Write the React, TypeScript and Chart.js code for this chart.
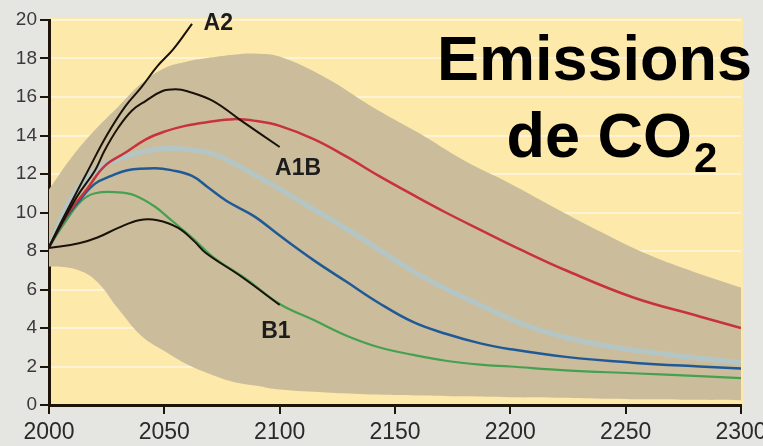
import React, { useEffect, useRef } from "react";
import { Chart, registerables } from "chart.js";

Chart.register(...registerables);

// ---- axis ranges / ticks ----
const yearMin = 2000;
const yearMax = 2300;
const yearStep = 50;
const emissionMin = 0;
const emissionMax = 20;
const emissionStep = 2;

// ---- uncertainty envelope (grey band) ----
const envelopeYears = [2000, 2010, 2020, 2030, 2040, 2050, 2060, 2070, 2080, 2090, 2100, 2120, 2140, 2160, 2180, 2200, 2220, 2240, 2260, 2280, 2300];
const envelopeUpper = [11.2, 12.9, 14.3, 15.5, 16.7, 17.5, 17.85, 18.05, 18.2, 18.25, 18.1, 17.0, 15.5, 14.15, 12.7, 11.5, 10.2, 8.95, 7.8, 6.9, 6.1];
const envelopeLower = [7.2, 7.1, 6.5, 5.0, 3.6, 2.8, 2.1, 1.6, 1.2, 1.0, 0.8, 0.65, 0.55, 0.5, 0.45, 0.4, 0.38, 0.33, 0.3, 0.27, 0.25];

// ---- scenario curves ----
const a2Years = [2000, 2004, 2010, 2017, 2025, 2033, 2040, 2047, 2054, 2062];
const a2Values = [8.2, 9.2, 10.6, 12.2, 14.0, 15.5, 16.5, 17.6, 18.5, 19.8];

const a1bYears = [2000, 2005, 2012, 2020, 2024, 2030, 2036, 2042, 2049, 2055, 2060, 2071, 2083, 2100];
const a1bValues = [8.2, 9.3, 10.8, 12.2, 13.2, 14.4, 15.3, 15.8, 16.3, 16.4, 16.3, 15.8, 14.8, 13.4];

const redYears = [2000, 2008, 2017, 2024, 2033, 2042, 2050, 2059, 2069, 2080, 2090, 2100, 2115, 2129, 2143, 2158, 2172, 2187, 2204, 2224, 2253, 2282, 2300];
const redValues = [8.2, 9.9, 11.3, 12.4, 13.1, 13.8, 14.2, 14.5, 14.7, 14.85, 14.75, 14.5, 13.8, 12.9, 11.9, 10.9, 10.0, 9.1, 8.1, 7.0, 5.6, 4.6, 4.0];

const lightBlueYears = [2000, 2010, 2020, 2033, 2045, 2058, 2072, 2090, 2110, 2135, 2160, 2185, 2210, 2240, 2270, 2300];
const lightBlueValues = [8.2, 10.8, 12.2, 12.9, 13.25, 13.3, 13.0, 11.9, 10.5, 8.7, 6.8, 5.3, 4.0, 3.1, 2.6, 2.2];

const blueYears = [2000, 2006, 2013, 2020, 2027, 2034, 2046, 2053, 2062, 2069, 2077, 2089, 2100, 2115, 2129, 2143, 2158, 2172, 2187, 2200, 2224, 2253, 2282, 2300];
const blueValues = [8.2, 9.5, 10.6, 11.5, 11.9, 12.2, 12.3, 12.2, 11.9, 11.3, 10.6, 9.8, 8.8, 7.5, 6.4, 5.3, 4.3, 3.7, 3.2, 2.9, 2.5, 2.2, 2.0, 1.9];

const greenYears = [2000, 2007, 2014, 2020, 2030, 2037, 2046, 2053, 2062, 2071, 2086, 2100, 2115, 2129, 2143, 2158, 2172, 2187, 2200, 2224, 2253, 2282, 2300];
const greenValues = [8.2, 9.5, 10.6, 11.0, 11.05, 10.9, 10.3, 9.6, 8.7, 7.7, 6.5, 5.25, 4.4, 3.6, 3.0, 2.6, 2.3, 2.1, 2.0, 1.8, 1.65, 1.5, 1.4];

const b1Years = [2000, 2013, 2021, 2030, 2039, 2047, 2056, 2063, 2068, 2083, 2100];
const b1Values = [8.15, 8.4, 8.7, 9.2, 9.6, 9.6, 9.2, 8.5, 7.9, 6.7, 5.2];

// ---- scenario labels (anchored in data coordinates) ----
const labelTexts = ["A2", "A1B", "B1"];
const labelYears = [2067, 2098, 2092];
const labelValues = [19.5, 11.95, 3.5];

// ---- title ----
const titleLine1 = "Emissions";
const titleLine2 = "de CO";
const titleSubscript = "2";

const pts = (xs: number[], ys: number[]) => xs.map((x, i) => ({ x, y: ys[i] }));

const SANS = "'Liberation Sans', Arial, Helvetica, sans-serif";
const AXIS_DARK = "#1e1408";

const backgroundPlugin = {
  id: "bg",
  beforeDraw(chart: any) {
    const { ctx, chartArea, width, height } = chart;
    ctx.save();
    ctx.fillStyle = "#e5e5e1";
    ctx.fillRect(0, 0, width, height);
    ctx.fillStyle = "#fde9aa";
    ctx.fillRect(chartArea.left, chartArea.top - 2, chartArea.right - chartArea.left + 2, chartArea.bottom - chartArea.top + 2);
    ctx.restore();
  },
};

const textPlugin = {
  id: "texts",
  afterDraw(chart: any) {
    const { ctx, scales } = chart;
    const xs = scales.x;
    const ys = scales.y;
    ctx.save();
    ctx.fillStyle = "#1c1c1c";
    ctx.font = `bold 23px ${SANS}`;
    ctx.textAlign = "left";
    ctx.textBaseline = "alphabetic";
    labelTexts.forEach((t, i) => {
      ctx.fillText(t, xs.getPixelForValue(labelYears[i]), ys.getPixelForValue(labelValues[i]));
    });
    ctx.fillStyle = "#000000";
    ctx.font = `bold 63px ${SANS}`;
    ctx.textAlign = "right";
    ctx.fillText(titleLine1, 752, 80);
    ctx.fillText(titleLine2, 692, 157);
    ctx.font = `bold 42px ${SANS}`;
    ctx.textAlign = "left";
    ctx.fillText(titleSubscript, 694, 172);
    ctx.restore();
  },
};

const lineDs = (label: string, xs: number[], ys: number[], color: string, width: number, order: number) => ({
  label,
  data: pts(xs, ys),
  borderColor: color,
  borderWidth: width,
  pointRadius: 0,
  fill: false,
  tension: 0.4,
  order,
});

export default function App() {
  const ref = useRef<HTMLCanvasElement | null>(null);
  useEffect(() => {
    document.body.style.margin = "0";
    if (!ref.current) return;
    const chart = new Chart(ref.current, {
      type: "line",
      data: {
        datasets: [
          lineDs("A2", a2Years, a2Values, "#1a1208", 2, 1),
          lineDs("A1B", a1bYears, a1bValues, "#1a1208", 2, 1),
          lineDs("B1", b1Years, b1Values, "#1a1208", 2, 1),
          lineDs("red", redYears, redValues, "#c8323a", 2.5, 2),
          lineDs("blue", blueYears, blueValues, "#1f5a96", 2.5, 2),
          lineDs("green", greenYears, greenValues, "#45a050", 2.2, 2),
          lineDs("lightblue", lightBlueYears, lightBlueValues, "rgba(160,205,232,0.55)", 5, 3),
          {
            label: "upper",
            data: pts(envelopeYears, envelopeUpper),
            borderWidth: 0,
            borderColor: "rgba(0,0,0,0)",
            backgroundColor: "#cbbd9c",
            pointRadius: 0,
            fill: "+1",
            tension: 0.4,
            order: 10,
          },
          {
            label: "lower",
            data: pts(envelopeYears, envelopeLower),
            borderWidth: 0,
            borderColor: "rgba(0,0,0,0)",
            pointRadius: 0,
            fill: false,
            tension: 0.4,
            order: 11,
          },
        ],
      },
      options: {
        animation: false,
        responsive: false,
        devicePixelRatio: 1,
        layout: { padding: { top: 20, right: 22, left: 0, bottom: 0 } },
        plugins: { legend: { display: false }, tooltip: { enabled: false }, title: { display: false } },
        scales: {
          x: {
            type: "linear",
            min: yearMin,
            max: yearMax,
            ticks: {
              stepSize: yearStep,
              color: "#2a2a2a",
              font: { family: SANS, size: 23 },
              padding: 5,
              maxRotation: 0,
              autoSkip: false,
              callback: (v: any) => String(v),
            },
            grid: { drawOnChartArea: false, drawTicks: true, tickLength: 9, color: AXIS_DARK, lineWidth: 2 },
            border: { color: AXIS_DARK, width: 3 },
            afterFit(scale: any) {
              scale.height = 41;
              scale.paddingRight = 0;
              scale.paddingLeft = 0;
            },
          },
          y: {
            min: emissionMin,
            max: emissionMax,
            z: 1,
            ticks: {
              stepSize: emissionStep,
              color: "#3a3a3a",
              font: { family: SANS, size: 19 },
              padding: 3,
            },
            grid: {
              color: "rgba(255,255,255,0.5)",
              lineWidth: 2,
              tickColor: AXIS_DARK,
              tickLength: 9,
              tickWidth: 2,
            },
            border: { color: AXIS_DARK, width: 3 },
            afterFit(scale: any) {
              scale.width = 49;
              scale.paddingTop = 0;
              scale.paddingBottom = 0;
            },
          },
        },
      },
      plugins: [backgroundPlugin, textPlugin],
    });
    return () => chart.destroy();
  }, []);
  return (
    <div style={{ width: 763, height: 446 }}>
      <canvas ref={ref} width={763} height={446} />
    </div>
  );
}
